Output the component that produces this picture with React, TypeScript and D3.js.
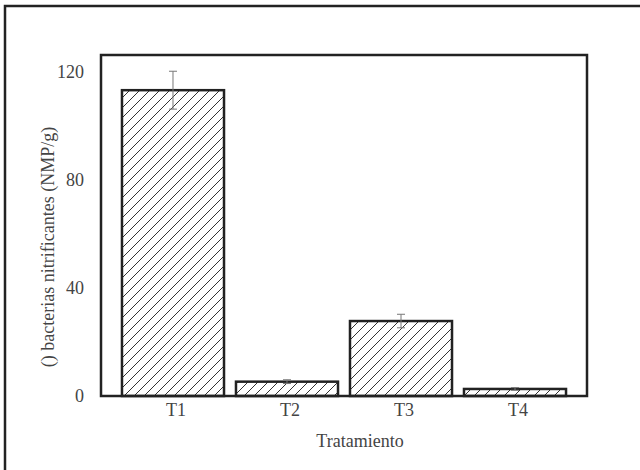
import React from 'react';
import { scaleBand, scaleLinear } from 'd3';

const categories = ['T1', 'T2', 'T3', 'T4'];
const values = [113, 5.3, 27.7, 2.6];
const errors = [7, 0.7, 2.5, 0.5];
const yTicks = [0, 40, 80, 120];

const W = 640;
const H = 470;
const box = { left: 101, top: 55, right: 587, bottom: 396 };

export default function App() {
  const x = scaleBand<string>()
    .domain(categories)
    .range([box.left, box.right])
    .paddingInner(0.105)
    .paddingOuter(0.184);

  const y = scaleLinear().domain([0, 126]).range([box.bottom, box.top]);

  const font = "'Liberation Serif', 'Times New Roman', serif";
  const textColor = '#444';

  return (
    <svg
      width={W}
      height={H}
      style={{ position: 'absolute', left: 0, top: 0, background: '#fff' }}
    >
      <defs>
        <pattern id="hatch" patternUnits="userSpaceOnUse" width={10} height={10}>
          <path
            d="M-1,1 l2,-2 M0,10 l10,-10 M9,11 l2,-2"
            stroke="#333"
            strokeWidth={1}
          />
        </pattern>
      </defs>

      {/* outer frame */}
      <rect x={5} y={6} width={700} height={600} fill="none" stroke="#222" strokeWidth={2.5} />

      {/* bars */}
      {categories.map((c, i) => (
        <g key={c}>
          <rect
            x={x(c)}
            y={y(values[i])}
            width={x.bandwidth()}
            height={y(0) - y(values[i])}
            fill="url(#hatch)"
            stroke="#222"
            strokeWidth={2.5}
          />
          <g stroke="#777" strokeWidth={1}>
            <line
              x1={x(c)! + x.bandwidth() / 2}
              x2={x(c)! + x.bandwidth() / 2}
              y1={y(values[i] + errors[i])}
              y2={y(values[i] - errors[i])}
            />
            <line
              x1={x(c)! + x.bandwidth() / 2 - 4}
              x2={x(c)! + x.bandwidth() / 2 + 4}
              y1={y(values[i] + errors[i])}
              y2={y(values[i] + errors[i])}
            />
            <line
              x1={x(c)! + x.bandwidth() / 2 - 4}
              x2={x(c)! + x.bandwidth() / 2 + 4}
              y1={y(values[i] - errors[i])}
              y2={y(values[i] - errors[i])}
            />
          </g>
        </g>
      ))}

      {/* plot box */}
      <rect
        x={box.left}
        y={box.top}
        width={box.right - box.left}
        height={box.bottom - box.top}
        fill="none"
        stroke="#222"
        strokeWidth={2.5}
      />

      {/* y ticks */}
      {yTicks.map((t) => (
        <text
          key={t}
          x={84}
          y={y(t)}
          dy="0.35em"
          textAnchor="end"
          fontFamily={font}
          fontSize={18}
          fill={textColor}
        >
          {t}
        </text>
      ))}

      {/* x ticks */}
      {categories.map((c) => (
        <text
          key={c}
          x={x(c)! + x.bandwidth() / 2 + 3}
          y={box.bottom + 20}
          textAnchor="middle"
          fontFamily={font}
          fontSize={18}
          fill={textColor}
        >
          {c}
        </text>
      ))}

      <text
        x={(box.left + box.right) / 2 + 16}
        y={447}
        textAnchor="middle"
        fontFamily={font}
        fontSize={18}
        fill={textColor}
      >
        Tratamiento
      </text>

      <text
        transform={`translate(54, 247) rotate(-90)`}
        textAnchor="middle"
        fontFamily={font}
        fontSize={18}
        fill={textColor}
      >
        () bacterias nitrificantes (NMP/g)
      </text>
    </svg>
  );
}
